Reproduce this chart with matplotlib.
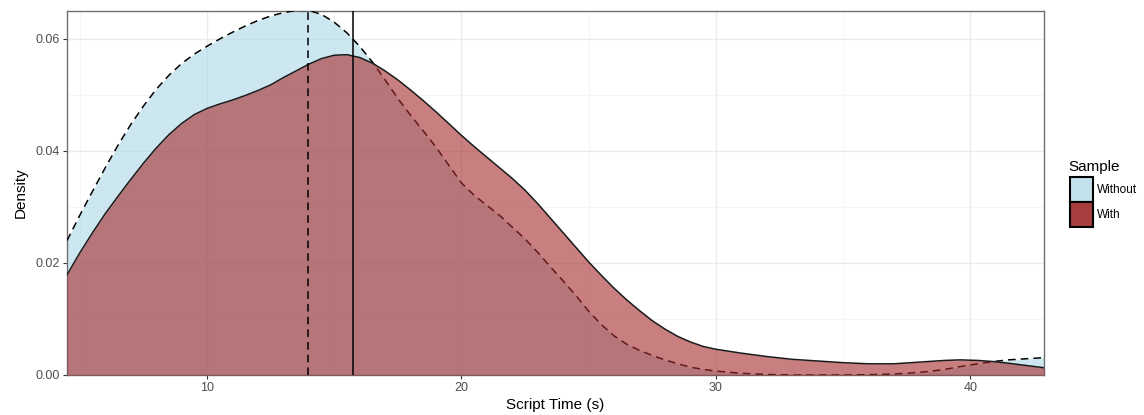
import matplotlib
matplotlib.use('Agg')
import matplotlib.pyplot as plt
from matplotlib.patches import Rectangle
from matplotlib.ticker import MultipleLocator

plt.rcParams['font.family'] = ['Liberation Sans', 'DejaVu Sans']

# density estimates, script time in seconds
without_x = [4.5, 5.0, 5.5, 6.0, 6.5, 7.0, 7.5, 8.0, 8.5, 9.0, 9.5, 10.0, 10.5,
             11.0, 11.5, 12.0, 12.5, 13.0, 13.5, 14.0, 14.5, 15.0, 15.5, 16.0,
             16.5, 17.0, 17.5, 18.0, 18.5, 19.0, 19.5, 20.0, 20.5, 21.0, 21.5,
             22.0, 22.5, 23.0, 23.5, 24.0, 24.5, 25.0, 25.5, 26.0, 26.5, 27.0,
             27.5, 28.0, 28.5, 29.0, 29.5, 30.0, 31.0, 32.0, 33.0, 35.0, 36.5,
             37.5, 38.3, 39.0, 39.6, 40.3, 40.9, 41.5, 42.2, 42.9]
without_y = [0.0240, 0.0285, 0.0328, 0.0370, 0.0410, 0.0447, 0.0480, 0.0510,
             0.0535, 0.0556, 0.0573, 0.0587, 0.0600, 0.0612, 0.0623, 0.0633,
             0.0641, 0.0647, 0.0651, 0.0651, 0.0644, 0.0630, 0.0611, 0.0587,
             0.0559, 0.0527, 0.0494, 0.0464, 0.0436, 0.0407, 0.0375, 0.0343,
             0.0321, 0.0303, 0.0285, 0.0264, 0.0243, 0.0219, 0.0193, 0.0168,
             0.0142, 0.0114, 0.0090, 0.0070, 0.0055, 0.0044, 0.0035, 0.0027,
             0.0020, 0.0014, 0.0010, 0.0007, 0.0003, 0.0001, 0.0000, 0.0000,
             0.0001, 0.0003, 0.0006, 0.0010, 0.0015, 0.0020, 0.0024, 0.0027,
             0.0029, 0.0031]

with_x = [4.5, 5.0, 5.5, 6.0, 6.5, 7.0, 7.5, 8.0, 8.5, 9.0, 9.5, 10.0, 10.5,
          11.0, 11.5, 12.0, 12.5, 13.0, 13.5, 14.0, 14.5, 15.0, 15.5, 16.0,
          16.5, 17.0, 17.5, 18.0, 18.5, 19.0, 19.5, 20.0, 20.5, 21.0, 21.5,
          22.0, 22.5, 23.0, 23.5, 24.0, 24.5, 25.0, 25.5, 26.0, 26.5, 27.0,
          27.5, 28.0, 28.5, 29.0, 29.5, 30.0, 31.0, 32.0, 33.0, 34.0, 35.0,
          36.0, 37.0, 38.0, 39.0, 39.6, 40.3, 40.9, 41.5, 42.2, 42.9]
with_y = [0.0179, 0.0218, 0.0254, 0.0288, 0.0319, 0.0349, 0.0378, 0.0405,
          0.0429, 0.0449, 0.0465, 0.0476, 0.0484, 0.0491, 0.0499, 0.0508,
          0.0518, 0.0531, 0.0543, 0.0555, 0.0565, 0.0571, 0.0572, 0.0567,
          0.0557, 0.0543, 0.0527, 0.0509, 0.0490, 0.0470, 0.0449, 0.0428,
          0.0408, 0.0389, 0.0370, 0.0351, 0.0330, 0.0306, 0.0280, 0.0254,
          0.0228, 0.0202, 0.0178, 0.0155, 0.0134, 0.0115, 0.0097, 0.0082,
          0.0069, 0.0059, 0.0051, 0.0046, 0.0039, 0.0033, 0.0028, 0.0025,
          0.0022, 0.0020, 0.0020, 0.0023, 0.0026, 0.0027, 0.0026, 0.0024,
          0.0021, 0.0017, 0.0013]

# group means (vertical reference lines)
mean_without = 13.97
mean_with = 15.74

samples = ['Without', 'With']
fills = ['#add8e6', '#a52a2a']
alpha = 0.6

fig = plt.figure(figsize=(11.44, 4.15), dpi=100)
ax = fig.add_axes([0.0586, 0.0964, 0.8540, 0.8771])

ax.fill_between(without_x, 0, without_y, color=fills[0], alpha=alpha, lw=0, zorder=2)
ax.plot(without_x, without_y, color='black', lw=1.1, dashes=(5, 3.3), zorder=3)
ax.fill_between(with_x, 0, with_y, color=fills[1], alpha=alpha, lw=0, zorder=4)
ax.plot(with_x, with_y, color='#1a1a1a', lw=1.1, zorder=5)

ax.axvline(mean_without, color='black', lw=1.1, dashes=(5, 3.3), zorder=6)
ax.axvline(mean_with, color='black', lw=1.1, zorder=6)

ax.set_xlim(4.5, 42.9)
ax.set_ylim(0, 0.065)
ax.xaxis.set_major_locator(MultipleLocator(10))
ax.xaxis.set_minor_locator(MultipleLocator(5))
ax.yaxis.set_major_locator(MultipleLocator(0.02))
ax.yaxis.set_minor_locator(MultipleLocator(0.01))
ax.yaxis.set_major_formatter(lambda v, p: f'{v:.2f}')

ax.grid(which='major', color='#ebebeb', lw=1.0, zorder=0)
ax.grid(which='minor', color='#f4f4f4', lw=0.6, zorder=0)
ax.set_axisbelow(True)
ax.tick_params(which='major', length=3, width=0.8, color='#333333',
               labelsize=9, labelcolor='#4d4d4d', pad=2)
ax.tick_params(which='minor', length=0)
for s in ax.spines.values():
    s.set_edgecolor('#707070')
    s.set_linewidth(1.0)

ax.set_xlabel('Script Time (s)', fontsize=11, labelpad=3)
ax.set_ylabel('Density', fontsize=11, labelpad=6)

# legend drawn by hand, keys stacked like a ggplot guide
W, H = 1144, 415
fig.text(1068 / W, 1 - 171 / H, 'Sample', fontsize=11, ha='left', va='baseline')
key_cols = ['#c2e1eb', '#a83e3e']
for i, (lab, col) in enumerate(zip(samples, key_cols)):
    top = 177 + i * 25
    fig.patches.append(Rectangle((1070 / W, 1 - (top + 25) / H), 23 / W, 25 / H,
                                 transform=fig.transFigure, facecolor=col,
                                 edgecolor='black', lw=1.5))
    fig.text(1097 / W, 1 - (top + 12.5) / H, lab, fontsize=8.5, ha='left', va='center')

fig.savefig('out.png', dpi=100)
